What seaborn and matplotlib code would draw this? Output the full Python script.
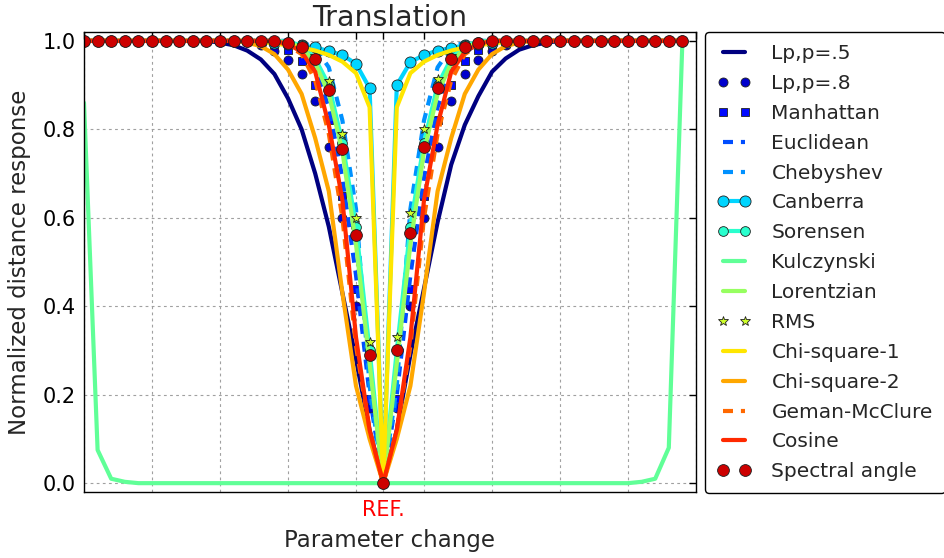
import numpy as np
import pandas as pd
import matplotlib
matplotlib.use("Agg")
import matplotlib.pyplot as plt
import seaborn as sns

# ---------------- data ----------------
x_pos = list(range(45))          # parameter steps, REF at 22
ref_pos = 22
ref_label = "REF."

lp5 = [1.0, 1.0, 1.0, 1.0, 1.0, 1.0, 1.0, 1.0, 1.0, 1.0,
       0.996, 0.99, 0.978, 0.958, 0.925, 0.87, 0.80, 0.70, 0.58, 0.43, 0.28, 0.12,
       0.0,
       0.12, 0.29, 0.44, 0.59, 0.72, 0.81, 0.875, 0.93, 0.96, 0.98, 0.99, 0.996,
       1.0, 1.0, 1.0, 1.0, 1.0, 1.0, 1.0, 1.0, 1.0, 1.0]
lp8 = [1.0, 1.0, 1.0, 1.0, 1.0, 1.0, 1.0, 1.0, 1.0, 1.0, 1.0, 1.0,
       0.997, 0.99, 0.976, 0.957, 0.925, 0.865, 0.76, 0.60, 0.40, 0.17,
       0.0,
       0.17, 0.40, 0.60, 0.76, 0.865, 0.925, 0.957, 0.976, 0.99, 0.997,
       1.0, 1.0, 1.0, 1.0, 1.0, 1.0, 1.0, 1.0, 1.0, 1.0, 1.0, 1.0]
manhattan = [1.0, 1.0, 1.0, 1.0, 1.0, 1.0, 1.0, 1.0, 1.0, 1.0, 1.0, 1.0, 1.0, 1.0,
             0.993, 0.98, 0.955, 0.90, 0.82, 0.65, 0.44, 0.19,
             0.0,
             0.19, 0.44, 0.65, 0.82, 0.90, 0.955, 0.98, 0.993,
             1.0, 1.0, 1.0, 1.0, 1.0, 1.0, 1.0, 1.0, 1.0, 1.0, 1.0, 1.0, 1.0, 1.0]
euclidean = [1.0, 1.0, 1.0, 1.0, 1.0, 1.0, 1.0, 1.0, 1.0, 1.0, 1.0, 1.0, 1.0, 1.0, 1.0,
             0.993, 0.975, 0.935, 0.85, 0.69, 0.47, 0.20,
             0.0,
             0.20, 0.47, 0.69, 0.85, 0.935, 0.975, 0.993,
             1.0, 1.0, 1.0, 1.0, 1.0, 1.0, 1.0, 1.0, 1.0, 1.0, 1.0, 1.0, 1.0, 1.0, 1.0]
chebyshev = [1.0, 1.0, 1.0, 1.0, 1.0, 1.0, 1.0, 1.0, 1.0, 1.0, 1.0, 1.0, 1.0, 1.0, 1.0, 1.0,
             0.997, 0.985, 0.94, 0.82, 0.62, 0.22,
             0.0,
             0.22, 0.62, 0.82, 0.94, 0.985, 0.997,
             1.0, 1.0, 1.0, 1.0, 1.0, 1.0, 1.0, 1.0, 1.0, 1.0, 1.0, 1.0, 1.0, 1.0, 1.0, 1.0]
canberra = [1.0, 1.0, 1.0, 1.0, 1.0, 1.0, 1.0, 1.0, 1.0, 1.0, 1.0, 1.0, 1.0,
            0.998, 0.996, 0.993, 0.99, 0.985, 0.977, 0.968, 0.948, 0.893,
            0.0,
            0.90, 0.952, 0.968, 0.978, 0.984, 0.99, 0.993, 0.996, 0.998,
            1.0, 1.0, 1.0, 1.0, 1.0, 1.0, 1.0, 1.0, 1.0, 1.0, 1.0, 1.0, 1.0]
sorensen = [1.0, 1.0, 1.0, 1.0, 1.0, 1.0, 1.0, 1.0, 1.0, 1.0, 1.0, 1.0, 1.0, 1.0, 1.0,
            0.998, 0.99, 0.96, 0.90, 0.77, 0.58, 0.30,
            0.0,
            0.30, 0.58, 0.77, 0.90, 0.96, 0.99, 0.998,
            1.0, 1.0, 1.0, 1.0, 1.0, 1.0, 1.0, 1.0, 1.0, 1.0, 1.0, 1.0, 1.0, 1.0, 1.0]
kulczynski = [0.86, 0.075, 0.01, 0.003, 0.0, 0.0, 0.0, 0.0, 0.0, 0.0,
              0.0, 0.0, 0.0, 0.0, 0.0, 0.0, 0.0, 0.0, 0.0, 0.0, 0.0, 0.0,
              0.0,
              0.0, 0.0, 0.0, 0.0, 0.0, 0.0, 0.0, 0.0, 0.0, 0.0, 0.0, 0.0,
              0.0, 0.0, 0.0, 0.0, 0.0, 0.0, 0.003, 0.01, 0.08, 1.0]
lorentzian = [1.0, 1.0, 1.0, 1.0, 1.0, 1.0, 1.0, 1.0, 1.0, 1.0, 1.0, 1.0, 1.0, 1.0, 1.0,
              0.996, 0.985, 0.95, 0.88, 0.75, 0.54, 0.27,
              0.0,
              0.27, 0.54, 0.75, 0.88, 0.95, 0.985, 0.996,
              1.0, 1.0, 1.0, 1.0, 1.0, 1.0, 1.0, 1.0, 1.0, 1.0, 1.0, 1.0, 1.0, 1.0, 1.0]
rms = [1.0, 1.0, 1.0, 1.0, 1.0, 1.0, 1.0, 1.0, 1.0, 1.0, 1.0, 1.0, 1.0, 1.0, 1.0,
       0.998, 0.99, 0.965, 0.91, 0.79, 0.60, 0.32,
       0.0,
       0.33, 0.61, 0.80, 0.913, 0.965, 0.99, 0.998,
       1.0, 1.0, 1.0, 1.0, 1.0, 1.0, 1.0, 1.0, 1.0, 1.0, 1.0, 1.0, 1.0, 1.0, 1.0]
chi_square_1 = [1.0, 1.0, 1.0, 1.0, 1.0, 1.0, 1.0, 1.0, 1.0, 1.0, 1.0, 1.0, 1.0,
                0.997, 0.994, 0.99, 0.985, 0.978, 0.968, 0.953, 0.927, 0.85,
                0.0,
                0.85, 0.927, 0.953, 0.968, 0.978, 0.985, 0.99, 0.994, 0.997,
                1.0, 1.0, 1.0, 1.0, 1.0, 1.0, 1.0, 1.0, 1.0, 1.0, 1.0, 1.0, 1.0]
chi_square_2 = [1.0, 1.0, 1.0, 1.0, 1.0, 1.0, 1.0, 1.0, 1.0, 1.0, 1.0, 1.0,
                0.996, 0.988, 0.97, 0.935, 0.88, 0.78, 0.66, 0.43, 0.22, 0.10,
                0.0,
                0.10, 0.22, 0.43, 0.66, 0.78, 0.88, 0.935, 0.97, 0.988, 0.996,
                1.0, 1.0, 1.0, 1.0, 1.0, 1.0, 1.0, 1.0, 1.0, 1.0, 1.0, 1.0]
geman_mcclure = [1.0, 1.0, 1.0, 1.0, 1.0, 1.0, 1.0, 1.0, 1.0, 1.0, 1.0, 1.0, 1.0, 1.0, 1.0,
                 0.99, 0.97, 0.91, 0.79, 0.60, 0.31, 0.12,
                 0.0,
                 0.12, 0.31, 0.60, 0.79, 0.91, 0.97, 0.99,
                 1.0, 1.0, 1.0, 1.0, 1.0, 1.0, 1.0, 1.0, 1.0, 1.0, 1.0, 1.0, 1.0, 1.0, 1.0]
cosine = [1.0, 1.0, 1.0, 1.0, 1.0, 1.0, 1.0, 1.0, 1.0, 1.0, 1.0, 1.0, 1.0, 1.0, 1.0,
          0.993, 0.975, 0.93, 0.81, 0.64, 0.33, 0.12,
          0.0,
          0.12, 0.33, 0.64, 0.81, 0.93, 0.975, 0.993,
          1.0, 1.0, 1.0, 1.0, 1.0, 1.0, 1.0, 1.0, 1.0, 1.0, 1.0, 1.0, 1.0, 1.0, 1.0]
spectral_angle = [1.0, 1.0, 1.0, 1.0, 1.0, 1.0, 1.0, 1.0, 1.0, 1.0, 1.0, 1.0, 1.0, 1.0, 1.0,
                  0.995, 0.987, 0.96, 0.89, 0.755, 0.56, 0.29,
                  0.0,
                  0.30, 0.565, 0.761, 0.894, 0.959, 0.987, 0.996,
                  1.0, 1.0, 1.0, 1.0, 1.0, 1.0, 1.0, 1.0, 1.0, 1.0, 1.0, 1.0, 1.0, 1.0, 1.0]

series_names = ["Lp,p=.5", "Lp,p=.8", "Manhattan", "Euclidean", "Chebyshev",
                "Canberra", "Sorensen", "Kulczynski", "Lorentzian", "RMS",
                "Chi-square-1", "Chi-square-2", "Geman-McClure", "Cosine",
                "Spectral angle"]
series_values = [lp5, lp8, manhattan, euclidean, chebyshev, canberra, sorensen,
                 kulczynski, lorentzian, rms, chi_square_1, chi_square_2,
                 geman_mcclure, cosine, spectral_angle]

# ---------------- style ----------------
sns.set_style("white")
plt.rcParams["font.family"] = ["DejaVu Sans"]

colors = plt.cm.jet(np.linspace(0, 1, 16))[:15]
styles = {
    "Lp,p=.5": dict(linestyle="-", marker=None),
    "Lp,p=.8": dict(linestyle="none", marker="o", markersize=6.5),
    "Manhattan": dict(linestyle="none", marker="s", markersize=6),
    "Euclidean": dict(linestyle="--", dashes=(2.4, 1.9), marker=None),
    "Chebyshev": dict(linestyle="--", dashes=(2.4, 1.9), marker=None),
    "Canberra": dict(linestyle="-", marker="o", markersize=8),
    "Sorensen": dict(linestyle="-", marker="o", markersize=7),
    "Kulczynski": dict(linestyle="-", marker=None),
    "Lorentzian": dict(linestyle="-", marker=None),
    "RMS": dict(linestyle="none", marker="*", markersize=7),
    "Chi-square-1": dict(linestyle="-", marker=None),
    "Chi-square-2": dict(linestyle="-", marker=None),
    "Geman-McClure": dict(linestyle="--", dashes=(2.4, 1.9), marker=None),
    "Cosine": dict(linestyle="-", marker=None),
    "Spectral angle": dict(linestyle="none", marker="o", markersize=8.5),
}

fig = plt.figure(figsize=(9.45, 5.58), dpi=100)
ax = fig.add_axes([84 / 945, 1 - 492 / 558, 612 / 945, 460 / 558])

for name, vals, col in zip(series_names, series_values, colors):
    st = dict(styles[name])
    ls = st.pop("linestyle")
    dashes = st.pop("dashes", None)
    marker = st.pop("marker")
    ms = st.pop("markersize", 6)
    df = pd.DataFrame({"x": x_pos, "y": vals})
    sns.lineplot(data=df, x="x", y="y", ax=ax, color=col, lw=3,
                 linestyle=ls, marker=marker, markersize=ms,
                 markeredgecolor="#202020", markeredgewidth=0.6,
                 label=name, estimator=None, sort=False)
    line = ax.get_lines()[-1]
    if dashes is not None:
        line.set_linestyle((0, dashes))

ax.set_xlim(0, 45)
ax.set_ylim(-0.02, 1.02)

major = [0, 5, 10, 15, 20, 25, 30, 35, 40, 45]
ticks = sorted(major + [ref_pos])
ax.set_xticks(ticks)
ax.set_xticklabels([ref_label if t == ref_pos else "" for t in ticks])
ax.set_yticks([0.0, 0.2, 0.4, 0.6, 0.8, 1.0])
ax.set_yticklabels(["0.0", "0.2", "0.4", "0.6", "0.8", "1.0"])

ax.tick_params(axis="both", which="both", direction="in", top=True, right=True,
               length=5, width=1, labelsize=15, colors="black", pad=6)
for tk, t in zip(ax.xaxis.get_major_ticks(), ticks):
    if t == ref_pos:
        tk.tick1line.set_color("red")
        tk.tick2line.set_color("red")
        tk.label1.set_color("red")

ax.grid(True, color="#a0a0a0", linestyle=(0, (2.5, 3)), linewidth=0.8)
for sp in ax.spines.values():
    sp.set_color("black")
    sp.set_linewidth(1.0)
    sp.set_visible(True)

ax.set_title("Translation", fontsize=20.5, pad=4)
ax.set_xlabel("Parameter change", fontsize=16.5, labelpad=6)
ax.set_ylabel("Normalized distance response", fontsize=16.5, labelpad=8)

leg = ax.legend(loc="upper left", bbox_to_anchor=(1 + 9 / 612, 1.0),
                borderaxespad=0, fontsize=14.5, numpoints=2, frameon=True,
                fancybox=True, framealpha=1, edgecolor="black",
                handlelength=1.7, handletextpad=1.0, labelspacing=0.54,
                borderpad=0.6)
leg.get_frame().set_linewidth(1.0)

fig.savefig("out.png", dpi=100)
